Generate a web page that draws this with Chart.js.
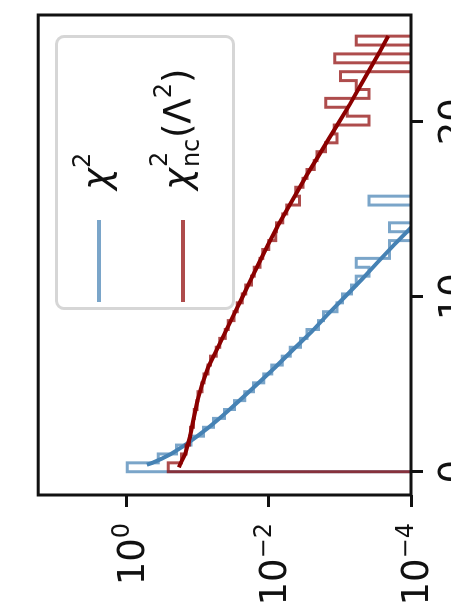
<!DOCTYPE html>
<html>
<head>
<meta charset="utf-8">
<script src="https://cdn.jsdelivr.net/npm/chart.js@4.4.0/dist/chart.umd.min.js"></script>
<style>
  html, body { margin: 0; padding: 0; background: #fff; }
  body { width: 451px; height: 609px; overflow: hidden; position: relative; }
  /* the figure is laid out landscape and turned a quarter turn counter-clockwise */
  #wrap {
    position: absolute; left: 0; top: 0; width: 609px; height: 451px;
    transform-origin: 0 0; transform: translateY(609px) rotate(-90deg);
  }
  #plot { position: absolute; left: 0; top: 0; }
  #legend {
    position: absolute; left: 299px; top: 55px; width: 275px; height: 180px;
    box-sizing: border-box; border: 3px solid #d6d6d6; border-radius: 9px;
    background: rgba(255,255,255,0.8);
    font-family: 'DejaVu Sans', sans-serif; font-size: 37px; color: #111;
  }
  #legend .handle { position: absolute; left: 5px; width: 82px; height: 4px; }
  #legend .label { position: absolute; left: 117px; line-height: 1; white-space: nowrap; }
  #legend .sp { font-size: 24px; position: relative; top: -19px; }
  #legend .stk { display: inline-block; position: relative; width: 30px; height: 0; }
  #legend .stk span { position: absolute; left: 1px; font-size: 24px; line-height: 1; }
  #legend .stk .up { bottom: 19px; }
  #legend .stk .dn { bottom: -13px; }
</style>
</head>
<body>
<div id="wrap">
  <canvas id="plot" width="609" height="451" style="width:609px;height:451px"></canvas>
  <div id="legend">
    <span class="handle" id="h1" style="top:39px"></span>
    <span class="label" style="top:20px"><i>χ</i><span class="sp">2</span></span>
    <span class="handle" id="h2" style="top:123px"></span>
    <span class="label" style="top:101px"><i>χ</i><span class="stk"><span class="up">2</span><span class="dn">nc</span></span>(Λ<span class="sp">2</span>)</span>
  </div>
</div>
<script>
// histogram bin edges shared by both samples
const binEdges = [0.000, 0.508, 1.016, 1.524, 2.032, 2.540, 3.048, 3.556, 4.064, 4.572,
  5.080, 5.588, 6.096, 6.604, 7.112, 7.620, 8.128, 8.636, 9.144, 9.652,
  10.160, 10.668, 11.176, 11.684, 12.192, 12.700, 13.208, 13.716, 14.224, 14.732,
  15.240, 15.748, 16.256, 16.764, 17.272, 17.780, 18.288, 18.796, 19.304, 19.812,
  20.320, 20.828, 21.336, 21.844, 22.352, 22.860, 23.368, 23.876, 24.384, 24.892];

// normalised histogram heights (density) per bin
const chiSqDensity = [0.98, 0.36, 0.20, 0.125, 0.083, 0.060, 0.042, 0.0305, 0.0218, 0.0165,
  0.0118, 0.0091, 0.0065, 0.0050, 0.0036, 0.0029, 0.0020, 0.0017, 0.0011, 0.00092,
  0.00069, 0.00059, 0.00039, 0.00059, 0.00020, 0.00020, 0, 0.00020, 0, 0,
  0.00039, 0, 0, 0, 0, 0, 0, 0, 0, 0,
  0, 0, 0, 0, 0, 0, 0, 0, 0];
const ncChiSqDensity = [0.26, 0.17, 0.146, 0.131, 0.127, 0.115, 0.112, 0.103, 0.099, 0.087,
  0.082, 0.072, 0.066, 0.055, 0.049, 0.041, 0.0372, 0.0310, 0.0279, 0.0236,
  0.0212, 0.0176, 0.0160, 0.0133, 0.0122, 0.0100, 0.0080, 0.0078, 0.0064, 0.0056,
  0.0037, 0.0042, 0.0033, 0.0029, 0.0023, 0.0021, 0.0016, 0.0011, 0.0012, 0.00039,
  0.00079, 0.00158, 0.00039, 0.00059, 0.00098, 0, 0.00118, 0, 0.00059];

// reference density curves
const chiSqCurveX = [0.4, 0.5, 0.75, 1, 1.5, 2, 2.5, 3, 3.5, 4, 5, 6, 7, 8, 9, 10, 11, 12, 13, 14, 15];
const chiSqCurveY = [0.52, 0.44, 0.32, 0.242, 0.154, 0.104, 0.072, 0.051, 0.037, 0.027, 0.0146, 0.0080,
  0.0045, 0.0025, 0.00148, 0.00085, 0.00049, 0.00029, 0.00017, 0.000097, 0.000057];
const ncCurveX = [0.25, 0.5, 1, 2, 3, 4, 5, 6, 7, 8, 9, 10, 11, 12, 13, 14, 15, 16, 17, 18, 19, 20,
  21, 22, 23, 24, 24.9];
const ncCurveY = [0.185, 0.174, 0.151, 0.129, 0.115, 0.102, 0.0871, 0.0708, 0.0537, 0.0407, 0.0309,
  0.0234, 0.0178, 0.0135, 0.0102, 0.00759, 0.0055, 0.00398, 0.00288, 0.00204, 0.00145, 0.00102,
  0.000724, 0.000525, 0.00038, 0.000275, 0.000209];

// axes
const xRange = [-1.33, 26.1];
const yRange = [1e-4, 17.6];
const xTicks = [0, 10, 20];
const yTicks = [1e-4, 1e-2, 1];
const yTickBase = '10';
const yTickExponents = ['−4', '−2', '0'];

// empty bins sit far below the axis floor on a log scale, so they fall off the plot
const EMPTY_BIN_LEVEL = 1e-9;

const BLUE = 'rgb(70,130,180)';
const BLUE_HIST = 'rgba(70,130,180,0.72)';
const RED = 'rgb(139,0,0)';
const RED_HIST = 'rgba(139,0,0,0.7)';
document.getElementById('h1').style.background = BLUE_HIST;
document.getElementById('h2').style.background = RED_HIST;

// outline of a step histogram: rise at the first edge, one point per bin, drop after the last
function stepOutline(edges, heights) {
  const lvl = h => (h > 0 ? h : EMPTY_BIN_LEVEL);
  const pts = [{ x: edges[0], y: EMPTY_BIN_LEVEL }];
  heights.forEach((h, i) => pts.push({ x: edges[i], y: lvl(h) }));
  pts.push({ x: edges[edges.length - 1], y: EMPTY_BIN_LEVEL });
  return pts;
}
function curve(xs, ys) { return xs.map((x, i) => ({ x, y: ys[i] })); }

const FONT = "'DejaVu Sans', sans-serif";

// axes frame on all four sides, drawn over the data
const framePlugin = {
  id: 'frame',
  afterDatasetsDraw(chart) {
    const a = chart.chartArea, c = chart.ctx;
    c.save();
    c.strokeStyle = '#111';
    c.lineWidth = 3;
    c.strokeRect(a.left, a.top, a.right - a.left, a.bottom - a.top);
    c.restore();
  }
};

// power-of-ten labels for the log axis: base plus raised exponent
const powerLabels = {
  id: 'powerLabels',
  afterDraw(chart) {
    const s = chart.scales.y, c = chart.ctx;
    const right = s.right - 12 - 16;
    c.save();
    c.fillStyle = '#111';
    c.textAlign = 'right';
    c.textBaseline = 'alphabetic';
    s.ticks.forEach((t, i) => {
      const y = s.getPixelForValue(t.value) + 17;
      c.font = '24px ' + FONT;
      const exp = yTickExponents[i];
      const w = c.measureText(exp).width;
      c.fillText(exp, right, y - 15);
      c.font = '37px ' + FONT;
      c.fillText(yTickBase, right - w, y);
    });
    c.restore();
  }
};

const tickFont = { family: FONT, size: 37 };
const gridOpts = { display: true, drawOnChartArea: false, drawTicks: true, tickLength: 12, tickWidth: 3, tickColor: '#111' };

new Chart(document.getElementById('plot'), {
  type: 'line',
  data: {
    datasets: [
      { label: 'nc curve', data: curve(ncCurveX, ncCurveY), borderColor: RED, borderWidth: 4, order: 0 },
      { label: 'nc hist', data: stepOutline(binEdges, ncChiSqDensity), borderColor: RED_HIST, borderWidth: 3, stepped: true, order: 1 },
      { label: 'chi2 curve', data: curve(chiSqCurveX, chiSqCurveY), borderColor: BLUE, borderWidth: 4, order: 2 },
      { label: 'chi2 hist', data: stepOutline(binEdges, chiSqDensity), borderColor: BLUE_HIST, borderWidth: 3, stepped: true, order: 3 }
    ]
  },
  options: {
    responsive: false,
    animation: false,
    devicePixelRatio: 1,
    layout: { padding: { top: 37, right: 15, left: 0, bottom: 0 } },
    elements: { point: { radius: 0 }, line: { fill: false, tension: 0 } },
    plugins: { legend: { display: false }, tooltip: { enabled: false } },
    scales: {
      x: {
        type: 'linear', min: xRange[0], max: xRange[1],
        afterBuildTicks: s => { s.ticks = xTicks.map(v => ({ value: v })); },
        afterFit: s => { s.height = 40; },
        grid: gridOpts,
        border: { display: false },
        ticks: { font: tickFont, color: '#111', padding: 10, maxRotation: 0, autoSkip: false }
      },
      y: {
        type: 'logarithmic', min: yRange[0], max: yRange[1],
        afterBuildTicks: s => { s.ticks = yTicks.map(v => ({ value: v })); },
        afterFit: s => { s.width = 114; },
        grid: gridOpts,
        border: { display: false },
        ticks: { font: tickFont, color: '#111', padding: 16, autoSkip: false, callback: () => '' }
      }
    }
  },
  plugins: [framePlugin, powerLabels]
});
</script>
</body>
</html>
